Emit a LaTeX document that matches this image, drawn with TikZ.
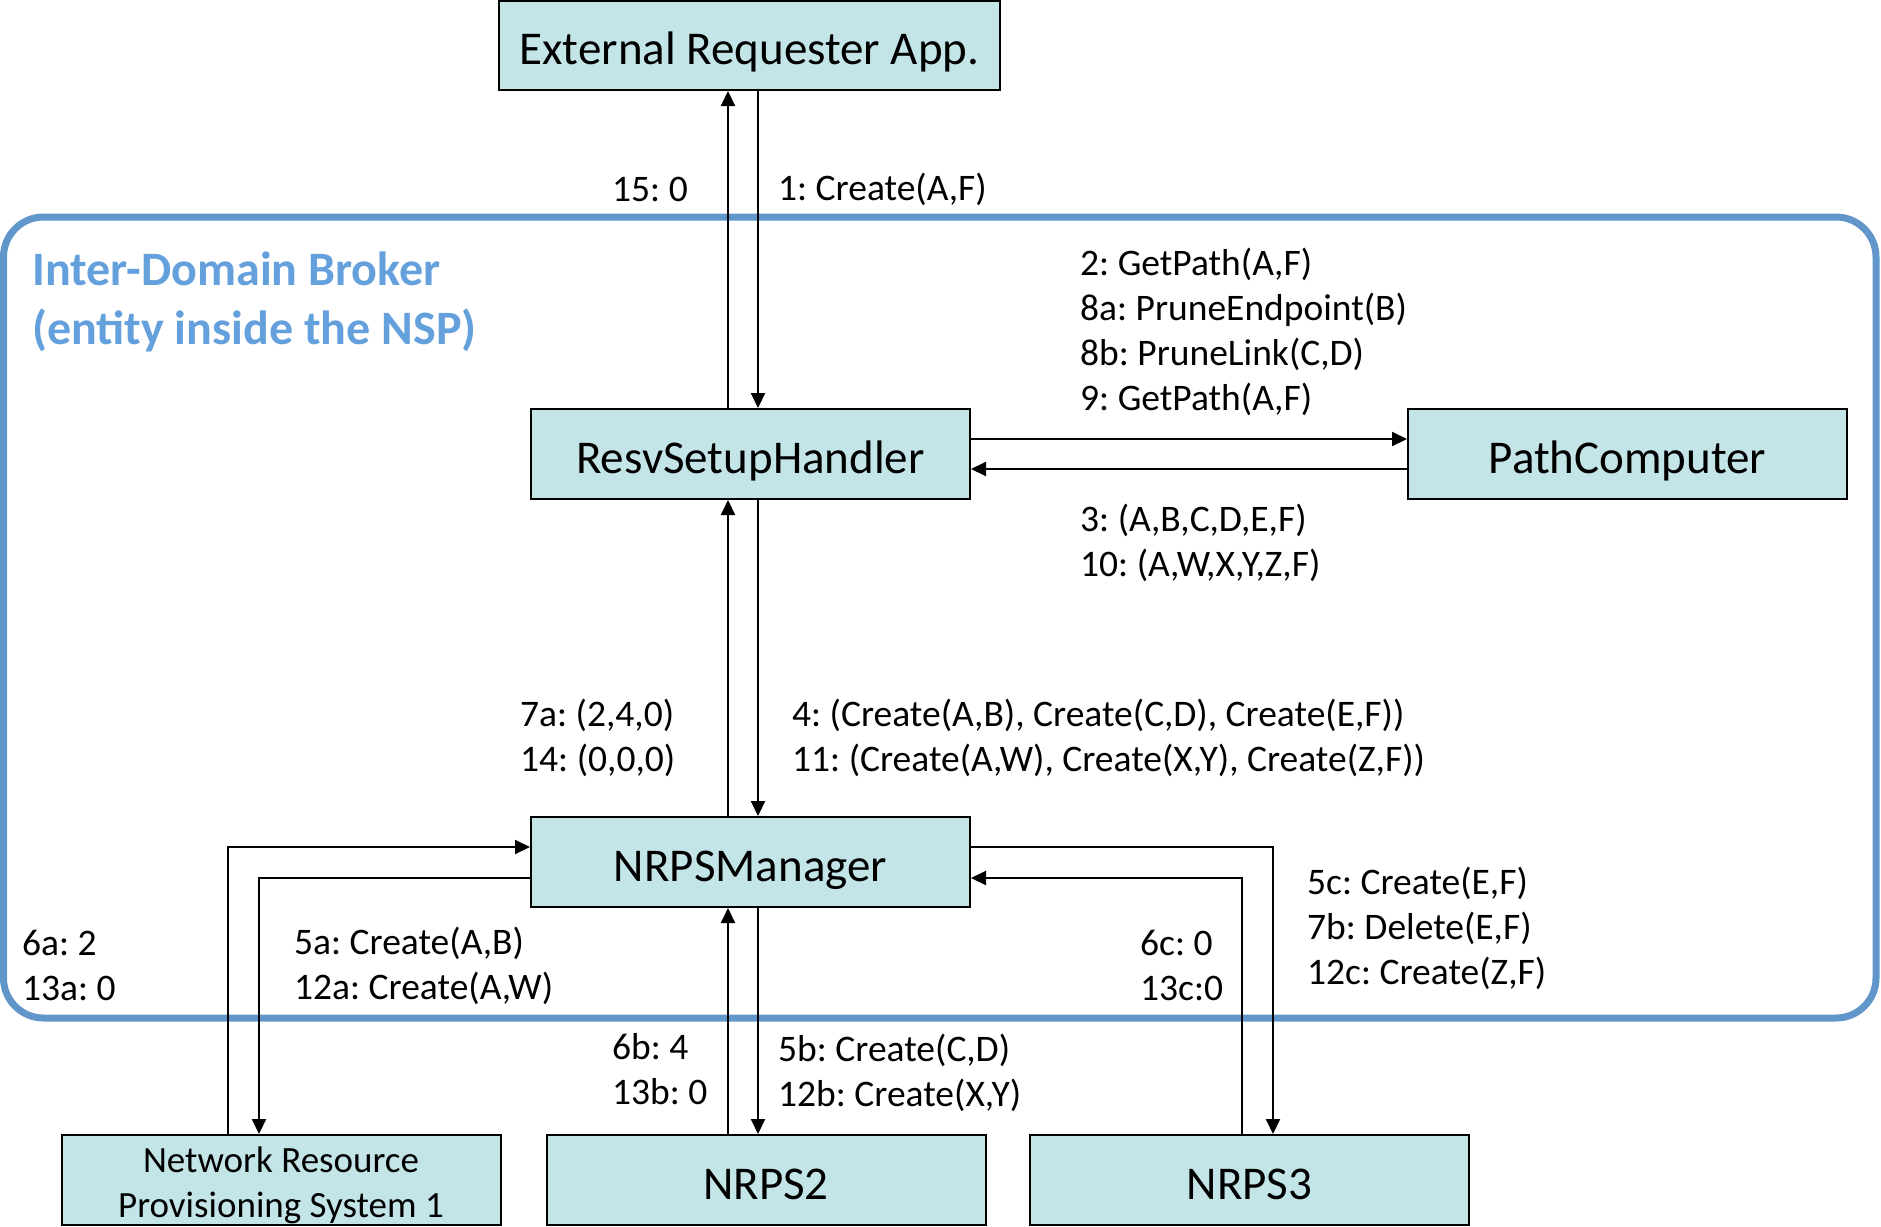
\documentclass[tikz,border=0pt]{standalone}
\usepackage{fontspec}
\setmainfont{Carlito}
\usetikzlibrary{arrows.meta}
\definecolor{boxfill}{RGB}{196,229,232}
\definecolor{frameblue}{RGB}{96,150,202}
\definecolor{titleblue}{RGB}{100,160,220}
\newcommand{\bt}[2][19pt]{\raisebox{-#1}[0pt][0pt]{#2}}
\frenchspacing
\begin{document}
\begin{tikzpicture}[x=1pt,y=-1pt,
  box/.style={draw=black, line width=2pt, fill=boxfill, minimum width=439pt, minimum height=90pt, inner sep=0pt, font=\fontsize{47}{56}\selectfont},
  lbl/.style={font=\fontsize{37.5}{45}\selectfont, align=left, inner sep=0pt, anchor=west},
  arr/.style={line width=2pt, -{Triangle[length=15pt,width=14pt]}}]
\useasboundingbox (0,0) rectangle (1881,1226);
% frame
\draw[frameblue, line width=7pt, rounded corners=40pt] (3.5,217) rectangle (1876,1018);
\node[anchor=west, inner sep=0pt, align=left, text=titleblue, font=\fontsize{48}{59}\selectfont\bfseries] (title) at (32,302) {Inter-Domain Broker\\(entity inside the NSP)};
% boxes
\node[box, minimum width=501pt, minimum height=89pt] (ext) at (749.5,45.5) {\bt{External Requester App.}};
\node[box] (resv) at (750.5,454) {\bt{ResvSetupHandler}};
\node[box] (path) at (1627.5,454) {\bt{PathComputer}};
\node[box] (mgr) at (750.5,862) {\bt{NRPSManager}};
\node[box, font=\fontsize{37}{45}\selectfont] (n1) at (281,1180) {\bt[37pt]{\begin{tabular}[b]{@{}c@{}}Network Resource\\Provisioning System 1\end{tabular}}};
\node[box] (n2) at (766,1180) {\bt{NRPS2}};
\node[box] (n3) at (1249.5,1180) {\bt{NRPS3}};
% coordinates
\coordinate (xa) at (728,0);
\coordinate (xb) at (758,0);
\coordinate (ya) at (0,439);
\coordinate (yb) at (0,469);
\coordinate (yc) at (0,847);
\coordinate (yd) at (0,878);
\coordinate (x1u) at (228,0);
\coordinate (x1d) at (259,0);
\coordinate (x3u) at (1242,0);
\coordinate (x3d) at (1273,0);
% connectors
\draw[arr] (resv.north -| xa) -- (ext.south -| xa);
\draw[arr] (ext.south -| xb) -- (resv.north -| xb);
\draw[arr] (resv.east |- ya) -- (path.west |- ya);
\draw[arr] (path.west |- yb) -- (resv.east |- yb);
\draw[arr] (mgr.north -| xa) -- (resv.south -| xa);
\draw[arr] (resv.south -| xb) -- (mgr.north -| xb);
\draw[arr] (n2.north -| xa) -- (mgr.south -| xa);
\draw[arr] (mgr.south -| xb) -- (n2.north -| xb);
\draw[arr] (n1.north -| x1u) |- (mgr.west |- yc);
\draw[arr] (mgr.west |- yd) -| (n1.north -| x1d);
\draw[arr] (mgr.east |- yc) -| (n3.north -| x3d);
\draw[arr] (n3.north -| x3u) |- (mgr.east |- yd);
% labels
\node[lbl] (l15) at (612,189) {15: 0};
\node[lbl] (l1) at (778,189) {1: Create(A,F)};
\node[lbl] (l2) at (1080,332) {2: GetPath(A,F)\\8a: PruneEndpoint(B)\\8b: PruneLink(C,D)\\9: GetPath(A,F)};
\node[lbl] (l3) at (1080,543) {3: (A,B,C,D,E,F)\\10: (A,W,X,Y,Z,F)};
\node[lbl] (l7) at (520,738) {7a: (2,4,0)\\14: (0,0,0)};
\node[lbl] (l4) at (792,738) {4: (Create(A,B), Create(C,D), Create(E,F))\\11: (Create(A,W), Create(X,Y), Create(Z,F))};
\node[lbl] (l6a) at (22,965) {6a: 2\\13a: 0};
\node[lbl] (l5a) at (294,966) {5a: Create(A,B)\\12a: Create(A,W)};
\node[lbl] (l6c) at (1140,965) {6c: 0\\13c:0};
\node[lbl] (l5c) at (1307,928) {5c: Create(E,F)\\7b: Delete(E,F)\\12c: Create(Z,F)};
\node[lbl] (l6b) at (612,1069) {6b: 4\\13b: 0};
\node[lbl] (l5b) at (778,1073) {5b: Create(C,D)\\12b: Create(X,Y)};
\end{tikzpicture}
\end{document}
